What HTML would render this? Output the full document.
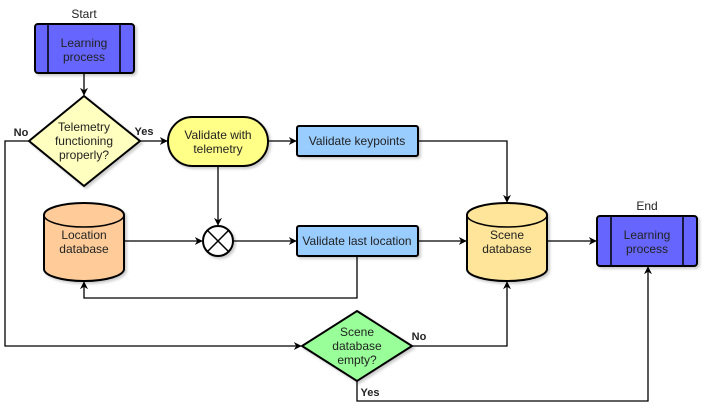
<!DOCTYPE html>
<html><head><meta charset="utf-8"><style>
html,body{margin:0;padding:0;background:#fff;width:706px;height:408px;overflow:hidden}
text{font-family:"Liberation Sans",Arial,sans-serif;font-size:12px;fill:#222}
.b{font-weight:bold;font-size:11px}
</style></head><body>
<svg width="706" height="408" viewBox="0 0 706 408" xmlns="http://www.w3.org/2000/svg">
<defs>
<marker id="a" viewBox="0 0 10 10" refX="9" refY="5" markerWidth="8" markerHeight="8" orient="auto" markerUnits="userSpaceOnUse"><path d="M0,0 L10,5 L0,10 L3,5 Z" fill="#000"/></marker>
<filter id="s" x="-10%" y="-10%" width="130%" height="130%"><feDropShadow dx="2" dy="2" stdDeviation="1.2" flood-color="#000" flood-opacity="0.2"/></filter>
</defs>
<g fill="none" stroke="#000" stroke-width="1.3">
<path d="M84,73 V95" marker-end="url(#a)"/>
<path d="M140,141 H167" marker-end="url(#a)"/>
<path d="M29,141 H5 V346 H301" marker-end="url(#a)"/>
<path d="M268,141 H296" marker-end="url(#a)"/>
<path d="M218,166 V225" marker-end="url(#a)"/>
<path d="M418,141 H507 V202" marker-end="url(#a)"/>
<path d="M124,241 H202" marker-end="url(#a)"/>
<path d="M233,241 H296" marker-end="url(#a)"/>
<path d="M418,241 H466" marker-end="url(#a)"/>
<path d="M357,256 V298 H84 V282" marker-end="url(#a)"/>
<path d="M547,241 H596" marker-end="url(#a)"/>
<path d="M412,346 H507 V282" marker-end="url(#a)"/>
<path d="M357,381 V401 H648 V267" marker-end="url(#a)"/>
</g>
<g stroke="#000" stroke-width="2" filter="url(#s)">
<rect x="35" y="24" width="99" height="49" rx="3" fill="#6666ff"/>
<polygon points="84,96 140,141 84,186 29,141" fill="#ffffc0"/>
<rect x="168" y="117" width="100" height="49" rx="24.5" fill="#ffff88"/>
<rect x="297" y="126" width="121" height="30" rx="2" fill="#99ccff"/>
<rect x="297" y="226" width="121" height="30" rx="2" fill="#99ccff"/>
<path d="M467,215 A40,12 0 0 1 547,215 V269 A40,12 0 0 1 467,269 Z" fill="#ffe599"/>
<path d="M44,215 A40,12 0 0 1 124,215 V269 A40,12 0 0 1 44,269 Z" fill="#ffcc99"/>
<circle cx="218" cy="241" r="15" fill="#fff"/>
<polygon points="357,311 412,346 357,381 302,346" fill="#99ff99"/>
<rect x="597" y="216" width="100" height="50" rx="3" fill="#6666ff"/>
</g>
<g fill="none" stroke="#000" stroke-width="1.5">
<path d="M48,24 V73 M120,24 V73"/>
<path d="M611,216 V266 M683,216 V266"/>
<path d="M467,215 A40,12 0 0 0 547,215"/>
<path d="M44,215 A40,12 0 0 0 124,215"/>
<path d="M207.4,230.4 L228.6,251.6 M228.6,230.4 L207.4,251.6"/>
</g>
<g text-anchor="middle">
<text x="84" y="18">Start</text>
<text x="84" y="47">Learning</text><text x="84" y="61">process</text>
<text x="84" y="131">Telemetry</text><text x="84" y="145">functioning</text><text x="84" y="159">properly?</text>
<text x="218" y="139">Validate with</text><text x="218" y="153">telemetry</text>
<text x="357" y="145">Validate keypoints</text>
<text x="357" y="245">Validate last location</text>
<text x="507" y="239">Scene</text><text x="507" y="253">database</text>
<text x="84" y="239">Location</text><text x="84" y="253">database</text>
<text x="357" y="336">Scene</text><text x="357" y="350">database</text><text x="357" y="364">empty?</text>
<text x="647" y="210">End</text>
<text x="647" y="239">Learning</text><text x="647" y="253">process</text>
<text x="21" y="136" class="b">No</text>
<text x="144" y="135" class="b">Yes</text>
<text x="419" y="340" class="b">No</text>
<text x="370" y="396" class="b">Yes</text>
</g>
</svg>
</body></html>
